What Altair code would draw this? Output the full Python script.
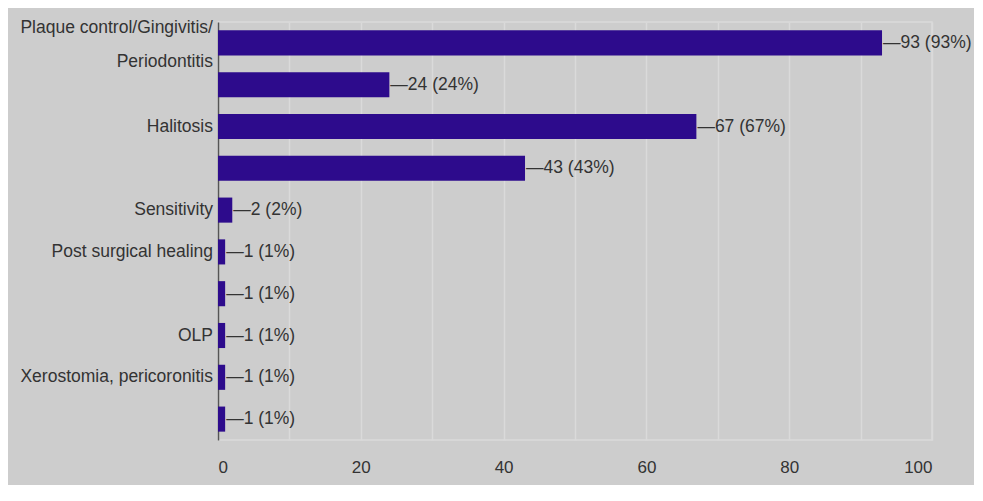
import altair as alt
import pandas as pd

ids = ["c01", "c02", "c03", "c04", "c05", "c06", "c07", "c08", "c09", "c10"]
labels = [
    "Plaque control/Gingivitis/|Periodontitis",
    "",
    "Halitosis",
    "",
    "Sensitivity",
    "Post surgical healing",
    "",
    "OLP",
    "Xerostomia, pericoronitis",
    "",
]
counts = [93, 24, 67, 43, 2, 1, 1, 1, 1, 1]
percents = [93, 24, 67, 43, 2, 1, 1, 1, 1, 1]
x_ticks = [0, 10, 20, 30, 40, 50, 60, 70, 80, 90, 100]

df = pd.DataFrame({"id": ids, "label": labels, "count": counts, "pct": percents})
df["vlabel"] = [f"\u2014{c} ({p}%)" for c, p in zip(counts, percents)]

FONT = "Liberation Sans"
BAR = "#2d0b8c"
TXT = "#333333"
GRID = "#dadada"

y_enc = alt.Y(
    "id:N",
    sort=None,
    scale=alt.Scale(paddingInner=0.4, paddingOuter=0.2),
    axis=alt.Axis(labels=False, ticks=False, domain=True, domainColor="#555555",
                  domainWidth=1.5, grid=False, title=None),
)

x_enc = alt.X(
    "count:Q",
    scale=alt.Scale(domain=[0, 100], nice=False),
    axis=alt.Axis(values=x_ticks, labelExpr="datum.value % 20 == 0 ? datum.label : ''",
                  grid=True, gridColor=GRID, gridWidth=1.5, domain=False, ticks=False,
                  labelPadding=19, labelFontSize=17, labelColor=TXT, labelFont=FONT,
                  title=None),
)

bars = alt.Chart(df).mark_bar(color=BAR).encode(x=x_enc, y=y_enc)

values = alt.Chart(df).mark_text(
    align="left", baseline="middle", dx=1, fontSize=17.5, font=FONT, color=TXT
).encode(x="count:Q", y=alt.Y("id:N", sort=None), text="vlabel:N")

cats_multi = alt.Chart(df).transform_filter(
    "indexof(datum.label, '|') >= 0"
).mark_text(
    align="right", baseline="middle", dx=-5, dy=-15, fontSize=17.5, font=FONT, color=TXT,
    lineBreak="|", lineHeight=34
).encode(x=alt.datum(0), y=alt.Y("id:N", sort=None), text="label:N")

cats_single = alt.Chart(df).transform_filter(
    "indexof(datum.label, '|') < 0"
).mark_text(
    align="right", baseline="middle", dx=-5, fontSize=17.5, font=FONT, color=TXT
).encode(x=alt.datum(0), y=alt.Y("id:N", sort=None), text="label:N")

chart = (
    alt.layer(bars, values, cats_multi, cats_single)
    .properties(
        width=714,
        height=418,
        autosize=alt.AutoSizeParams(type="none"),
        padding={"left": 210, "top": 14, "right": 42, "bottom": 45},
        background="#cdcdcd",
    )
    .configure_view(stroke=GRID, strokeWidth=1.5)
)

chart.save("out.html", embed_options={"renderer": "svg", "actions": False})
